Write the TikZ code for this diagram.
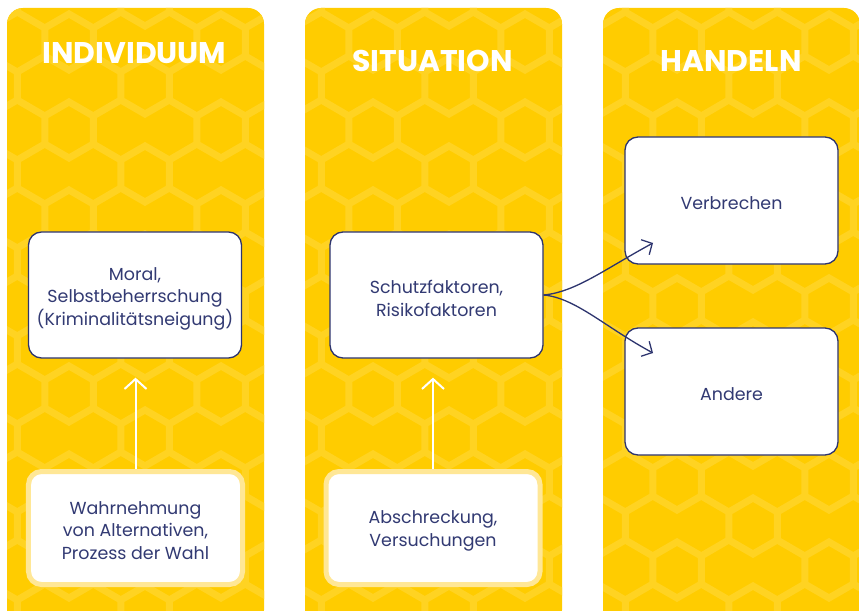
\documentclass[tikz,border=0pt]{standalone}
\usepackage{fontspec}
\setmainfont{Poppins}
\usetikzlibrary{arrows.meta}
\definecolor{panelyellow}{RGB}{255,204,0}
\definecolor{hexyellow}{RGB}{255,211,34}
\definecolor{paleyellow}{RGB}{255,231,150}
\definecolor{navy}{RGB}{45,52,110}
\definecolor{textnavy}{RGB}{50,58,115}
\begin{document}
\begin{tikzpicture}[x=1bp,y=-1bp,
  panel/.style={fill=panelyellow, rounded corners=16bp},
  hexline/.style={draw=hexyellow, line width=7bp},
  title/.style={text=white, font=\fontsize{30}{30}\selectfont\bfseries, anchor=base, inner sep=0pt},
  boxtext/.style={text=textnavy, font=\fontsize{17.5}{22.5}\selectfont, align=center, inner sep=0pt},
  navybox/.style={draw=navy, line width=1.3bp, fill=white, rounded corners=13bp, minimum width=213bp, minimum height=126bp},
  palebox/.style={draw=paleyellow, line width=5bp, fill=white, rounded corners=13bp, minimum width=214bp, minimum height=113bp},
  whitearrow/.style={draw=white, line width=2bp, -{Straight Barb[length=10bp,width=22bp]}},
  navyarrow/.style={draw=navy, line width=1.3bp, -{Straight Barb[length=8bp,width=17bp]}}
]
\useasboundingbox (0,0) rectangle (859,611);
\fill[white] (0,0) rectangle (859,611);
\path[panel] (7,8) rectangle (264,626);
\path[panel] (305,8) rectangle (562,626);
\path[panel] (603,8) rectangle (860,626);
\begin{scope}
\clip[rounded corners=16bp] (7,8) rectangle (264,626) (305,8) rectangle (562,626) (603,8) rectangle (860,626);
\foreach \i in {-1,...,11}{
  \foreach \m in {-8,...,7}{
    \pgfmathsetmacro\cx{69+76*\i}
    \pgfmathsetmacro\cy{130+44*\i+88*\m}
    \draw[hexline, shift={(\cx,\cy)}] (0,-28) -- (24.25,-14) -- (24.25,14) -- (0,28) -- (-24.25,14) -- (-24.25,-14) -- cycle
      (24.25,-14) -- (51.75,-30) (24.25,14) -- (51.75,30);
  }}
\end{scope}

\node[title] (t1) at (134.5,64) {INDIVIDUUM};
\node[title] (t2) at (432.5,72) {SITUATION};
\node[title] (t3) at (731,72) {HANDELN};

\node[navybox] (moral) at (135,295) {};
\node[navybox] (schutz) at (436.5,295) {};
\node[navybox, minimum height=127bp] (verb) at (731.5,200.5) {};
\node[navybox, minimum height=127bp] (andere) at (731.5,391.5) {};
\node[palebox] (wahr) at (135.5,528) {};
\node[palebox] (absch) at (433,528) {};

\node[boxtext] (moralT) at ([yshift=-3.5bp]moral.center) {Moral,\\Selbstbeherrschung\\(Kriminalitätsneigung)};
\node[boxtext] (schutzT) at ([yshift=-3.5bp]schutz.center) {Schutzfaktoren,\\Risikofaktoren};
\node[boxtext] (verbT) at ([yshift=-3bp]verb.center) {Verbrechen};
\node[boxtext] (andereT) at ([yshift=-3bp]andere.center) {Andere};
\node[boxtext] (wahrT) at ([yshift=-2.5bp]wahr.center) {Wahrnehmung\\von Alternativen,\\Prozess der Wahl};
\node[boxtext] (abschT) at ([yshift=-3bp]absch.center) {Abschreckung,\\Versuchungen};

\draw[whitearrow, shorten >=19bp] (wahr.north) -- (wahr.north |- moral.south);
\draw[whitearrow, shorten >=19bp] (absch.north) -- (absch.north |- schutz.south);

\coordinate (vtip) at (653,243);
\coordinate (atip) at (653,353);
\draw[navyarrow] (schutz.east) .. controls +(32,-3) and +(-48,26) .. (vtip);
\draw[navyarrow] (schutz.east) .. controls +(32,3) and +(-48,-26) .. (atip);
\end{tikzpicture}
\end{document}
